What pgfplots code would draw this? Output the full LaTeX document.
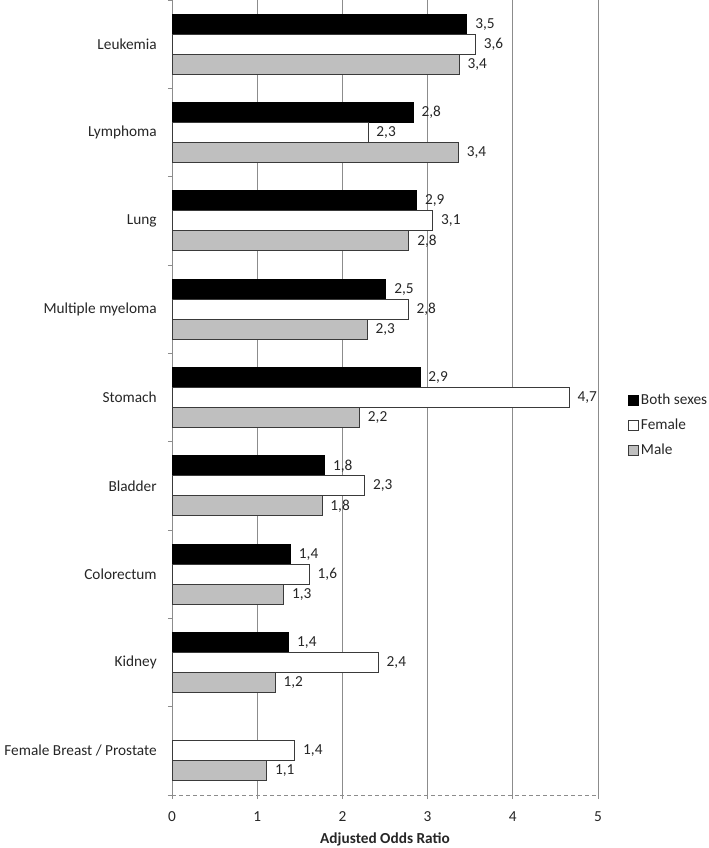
\documentclass[border=0pt]{standalone}
\usepackage{pgfplots}
\pgfplotsset{compat=1.18}
\usepackage{fontspec}
\setmainfont{Carlito}
\definecolor{malegray}{HTML}{BFBFBF}
\definecolor{edge}{HTML}{3A3A3A}
\definecolor{gridgray}{HTML}{8C8C8C}
\definecolor{txt}{HTML}{262626}
\begin{document}
\fontsize{15.3bp}{18bp}\selectfont
\begin{tikzpicture}
\path[use as bounding box] (0,0) rectangle (709bp,848bp);
\begin{axis}[
  at={(172bp,53bp)}, anchor=south west,
  width=426bp, height=795bp, scale only axis,
  xbar=0pt, bar width=20bp,
  xmin=0, xmax=5, ymin=-0.5, ymax=8.5, y dir=reverse,
  clip=false,
  axis x line*=bottom, axis y line*=left,
  axis line style={-},
  x axis line style={gridgray, dashed, line width=0.8bp, dash pattern=on 4bp off 3bp},
  y axis line style={gridgray, line width=0.8bp},
  xmajorgrids, grid style={gridgray, line width=0.8bp},
  xtick={0,1,2,3,4,5},
  ytick={-0.5,0.5,1.5,2.5,3.5,4.5,5.5,6.5,7.5,8.5},
  yticklabels={Leukemia,Lymphoma,Lung,Multiple myeloma,Stomach,Bladder,Colorectum,Kidney,Female Breast / Prostate,{}},
  yticklabel style={yshift=-44.17bp, xshift=-6bp, text=txt},
  xticklabel style={yshift=-7bp, text=txt},
  tick align=outside, major tick length=4bp,
  tick style={gridgray, line width=0.8bp},
  /pgf/number format/assume math mode=true,
  xlabel={\textbf{Adjusted Odds Ratio}},
  xlabel style={text=txt, yshift=-1bp},
  nodes near coords={\pgfmathprintnumber[fixed, fixed zerofill, precision=1, use comma, assume math mode=true]{\pgfplotspointmeta}},
  every node near coord/.append style={text=txt, xshift=3bp},
  legend image code/.code={\draw[#1, line width=0.8bp] (0bp,-5bp) rectangle (10bp,5bp);},
  legend style={at={(1,0.465)}, anchor=west, xshift=27bp, draw=none, fill=none,
    row sep=8bp, text=txt, /tikz/every even column/.append style={column sep=0bp}},
  legend cell align=left,
]
\addplot[fill=black, draw=black, line width=0.8bp, bar shift=20bp] coordinates {
(3.46,0) (2.83,1) (2.87,2) (2.51,3) (2.91,4) (1.79,5) (1.39,6) (1.37,7)};
\addplot[fill=white, draw=edge, line width=0.8bp, bar shift=0bp] coordinates {
(3.56,0) (2.30,1) (3.06,2) (2.77,3) (4.66,4) (2.26,5) (1.61,6) (2.42,7) (1.44,8)};
\addplot[fill=malegray, draw=edge, line width=0.8bp, bar shift=-20bp] coordinates {
(3.37,0) (3.36,1) (2.78,2) (2.29,3) (2.20,4) (1.76,5) (1.31,6) (1.21,7) (1.11,8)};
\legend{Both sexes, Female, Male}
\end{axis}
\end{tikzpicture}
\end{document}
